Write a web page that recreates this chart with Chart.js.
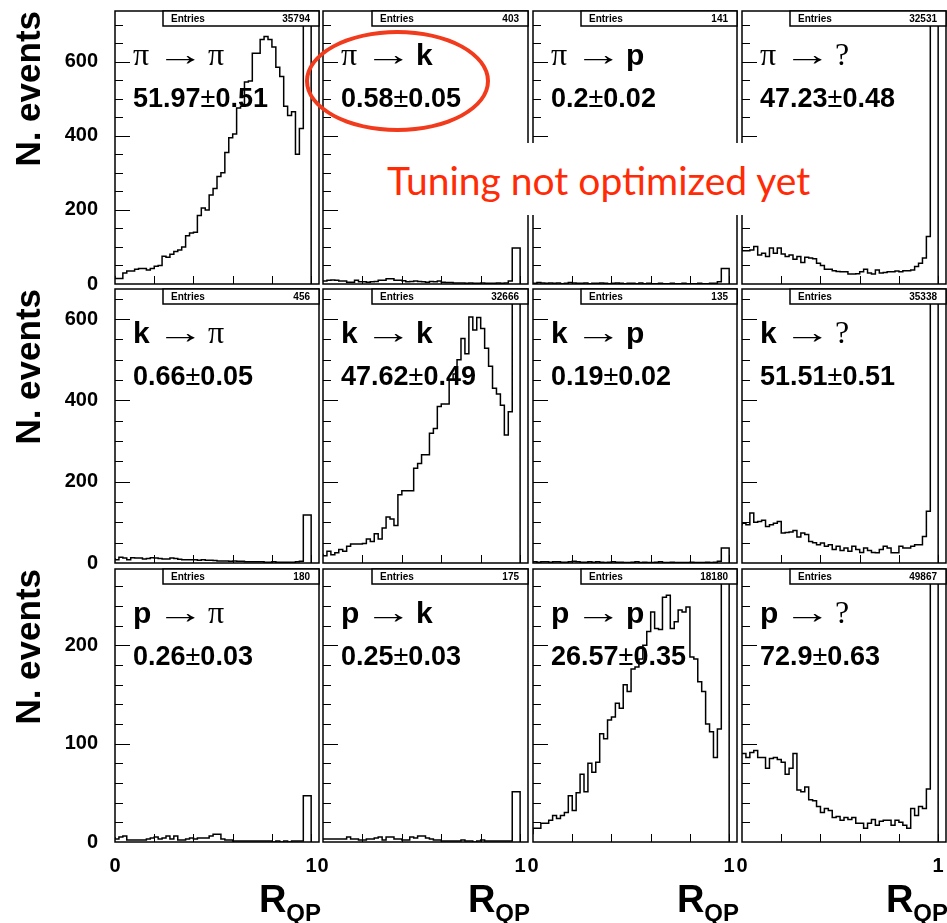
<!DOCTYPE html>
<html lang="en">
<head>
<meta charset="UTF-8">
<title>R_QP identification matrix</title>
<script src="https://cdn.jsdelivr.net/npm/chart.js@4.4.0/dist/chart.umd.min.js"></script>
<style>
  html, body { margin: 0; padding: 0; background: #fff; overflow: hidden; }
  #page { position: relative; width: 947px; height: 923px; }
  #page canvas { position: absolute; }
  #note { position: absolute; left: 380px; top: 143px; width: 540px; height: 72px; background: #fff; z-index: 5; }
  #note span { position: absolute; left: 7px; top: 18px; font-family: Lato, "Open Sans", sans-serif; font-size: 39px; line-height: 39px; color: #ff2b06; white-space: nowrap; }
  #ring { position: absolute; left: 305px; top: 30px; width: 185px; height: 102px; box-sizing: border-box; border: 4px solid #f23a1c; border-radius: 50%; z-index: 6; }
</style>
</head>
<body>
<div id="page">
  <div id="note"><span>Tuning not optimized yet</span></div>
  <div id="ring"></div>
</div>

<script>
// true species (rows) and assigned species (columns)
const sources = ['π', 'k', 'p'];
const targets = ['π', 'k', 'p', '?'];

// bin contents, 50 bins of width 0.02 in R_QP, last bin collects R_QP = 1
const piToPi = [22, 15, 15, 30, 35, 35, 40, 42, 42, 38, 42, 48, 50, 75, 72, 80, 88, 92, 100, 130, 138, 140, 185, 205, 200, 240, 258, 290, 300, 355, 395, 405, 475, 480, 545, 548, 623, 623, 660, 668, 660, 640, 585, 560, 480, 455, 465, 350, 420, 22355];
const piToK = [8, 8, 10, 11, 10, 8, 8, 5, 5, 10, 6, 6, 5, 6, 7, 10, 10, 14, 14, 10, 10, 9, 6, 7, 8, 7, 6, 5, 7, 6, 8, 5, 4, 4, 3, 3, 3, 2, 3, 2, 2, 3, 2, 2, 2, 3, 2, 3, 8, 97];
const piToP = [4, 2, 4, 3, 2, 3, 2, 3, 1, 2, 4, 3, 2, 2, 3, 1, 2, 2, 3, 2, 1, 2, 3, 2, 1, 2, 2, 1, 3, 1, 2, 1, 1, 2, 1, 1, 2, 1, 1, 2, 1, 1, 1, 2, 1, 1, 2, 2, 6, 42];
const piToUnknown = [101, 90, 90, 92, 101, 78, 83, 74, 97, 83, 97, 81, 74, 78, 67, 74, 58, 72, 70, 68, 56, 50, 40, 40, 36, 34, 33, 33, 27, 27, 28, 33, 40, 30, 27, 38, 30, 31, 33, 33, 35, 33, 36, 36, 38, 47, 56, 70, 128, 29725];

const kToPi = [12, 8, 14, 12, 8, 13, 12, 12, 10, 11, 13, 12, 11, 10, 10, 12, 11, 9, 8, 8, 8, 8, 7, 8, 7, 7, 6, 5, 5, 5, 4, 5, 4, 4, 3, 3, 3, 3, 3, 2, 2, 3, 2, 2, 2, 2, 2, 3, 4, 118];
const kToK = [23, 18, 29, 20, 25, 33, 29, 41, 47, 47, 47, 48, 59, 53, 72, 59, 86, 113, 108, 92, 168, 178, 178, 178, 233, 245, 266, 266, 319, 331, 385, 391, 391, 450, 465, 500, 552, 515, 605, 573, 604, 577, 528, 484, 430, 416, 388, 315, 372, 20314];
const kToP = [2, 3, 2, 3, 3, 2, 3, 3, 2, 2, 3, 4, 3, 2, 2, 3, 2, 3, 2, 1, 2, 3, 2, 2, 1, 1, 2, 3, 1, 2, 1, 1, 2, 3, 1, 1, 2, 1, 1, 1, 1, 2, 1, 1, 1, 2, 1, 2, 4, 37];
const kToUnknown = [92, 98, 94, 123, 100, 102, 105, 90, 94, 98, 102, 74, 75, 76, 80, 64, 74, 70, 53, 50, 45, 49, 41, 45, 33, 41, 31, 37, 29, 41, 33, 26, 37, 31, 26, 25, 33, 41, 37, 25, 25, 41, 37, 37, 41, 45, 45, 65, 127, 32455];

const pToPi = [5, 3, 5, 6, 2, 2, 2, 2, 2, 3, 4, 5, 3, 4, 6, 3, 6, 2, 2, 3, 4, 3, 4, 4, 4, 6, 8, 8, 3, 2, 2, 1, 1, 1, 1, 1, 1, 1, 1, 1, 1, 0, 1, 0, 1, 0, 1, 1, 1, 47];
const pToK = [3, 3, 3, 3, 3, 3, 3, 5, 3, 3, 2, 2, 3, 3, 4, 5, 2, 5, 5, 3, 3, 2, 2, 5, 4, 6, 6, 4, 3, 2, 2, 1, 1, 1, 1, 1, 2, 1, 1, 0, 1, 2, 1, 1, 1, 1, 1, 1, 1, 51];
const pToP = [8, 14, 14, 19, 19, 22, 27, 24, 27, 30, 47, 32, 50, 69, 51, 80, 71, 81, 110, 105, 124, 127, 141, 136, 160, 153, 176, 178, 186, 200, 214, 234, 217, 216, 249, 251, 217, 224, 236, 234, 239, 188, 186, 163, 153, 120, 112, 86, 115, 12045];
const pToUnknown = [90, 90, 86, 91, 93, 86, 86, 75, 85, 86, 84, 81, 69, 75, 90, 53, 51, 56, 43, 42, 36, 30, 34, 32, 25, 26, 22, 25, 23, 25, 19, 19, 14, 19, 23, 17, 21, 22, 22, 17, 22, 20, 17, 14, 34, 27, 36, 34, 54, 47626];

const counts = [
  [piToPi, piToK, piToP, piToUnknown],
  [kToPi, kToK, kToP, kToUnknown],
  [pToPi, pToK, pToP, pToUnknown]
];

// fraction (%) of each true species ending up in each column, with error
const fractionValues = [[51.97, 0.58, 0.2, 47.23], [0.66, 47.62, 0.19, 51.51], [0.26, 0.25, 26.57, 72.9]];
const fractionErrors = [[0.51, 0.05, 0.02, 0.48], [0.05, 0.49, 0.02, 0.51], [0.03, 0.03, 0.35, 0.63]];
const entries = [[35794, 403, 141, 32531], [456, 32666, 135, 35338], [180, 175, 18180, 49867]];

// axis settings per row
const yMax = [737, 674, 277.6];
const yLabelStep = [200, 200, 100];
const yMinorStep = [50, 50, 20];
const binWidth = 0.02;
const xMax = 1.04;
const xTickStep = 0.2;

// pad geometry
const colLeft = [115, 323, 533, 742];
const colWidth = [204, 205, 204, 204];
const rowTop = [11, 289, 569];
const rowHeight = [273, 274, 273];

const SANS = '"Liberation Sans", Arial, Helvetica, sans-serif';
const SERIF = '"Liberation Serif", "Times New Roman", "DejaVu Serif", serif';

function symbolFont(s) {
  return (s === 'π' || s === '?') ? '32px ' + SERIF : 'bold 30px ' + SANS;
}

// frame, inward ticks, stats box and the pad labels
const padDecor = {
  id: 'padDecor',
  afterDraw(chart, args, opts) {
    const { ctx, chartArea: a, scales: { x, y } } = chart;
    const r = opts.row, c = opts.col;
    ctx.save();

    ctx.strokeStyle = '#000';
    ctx.lineWidth = 1;
    const nMinor = Math.floor(yMax[r] / yMinorStep[r] + 1e-9);
    for (let k = 1; k <= nMinor; k++) {
      const v = k * yMinorStep[r];
      const py = Math.round(y.getPixelForValue(v)) + 0.5;
      const len = v % yLabelStep[r] === 0 ? 15 : 8;
      ctx.beginPath();
      ctx.moveTo(a.left, py);
      ctx.lineTo(a.left + len, py);
      ctx.stroke();
    }
    for (let k = 1; k * xTickStep <= 1 + 1e-9; k++) {
      const px = Math.round(x.getPixelForValue(k * xTickStep)) + 0.5;
      ctx.beginPath();
      ctx.moveTo(px, a.bottom);
      ctx.lineTo(px, a.bottom - 8);
      ctx.stroke();
    }

    ctx.lineWidth = 1.5;
    ctx.strokeRect(a.left, a.top, a.right - a.left, a.bottom - a.top);

    // statistics box
    const bx = a.right - 156, by = a.top, bh = 15;
    ctx.fillStyle = '#fff';
    ctx.fillRect(bx, by, a.right - bx, bh);
    ctx.strokeRect(bx, by, a.right - bx, bh);
    ctx.fillStyle = '#000';
    ctx.font = 'bold 10px ' + SANS;
    ctx.textBaseline = 'middle';
    ctx.textAlign = 'left';
    ctx.fillText('Entries', bx + 8, by + bh / 2 + 0.5);
    ctx.textAlign = 'right';
    ctx.fillText(String(entries[r][c]), a.right - 9, by + bh / 2 + 0.5);

    // "source -> target", the arrow stretched to the long TLatex form
    ctx.textAlign = 'left';
    ctx.textBaseline = 'alphabetic';
    const ly = a.top + 54;
    ctx.font = symbolFont(sources[r]);
    ctx.fillText(sources[r], a.left + 18, ly);
    ctx.font = '32px ' + SERIF;
    const aw = ctx.measureText('→').width;
    ctx.save();
    ctx.translate(a.left + 41, ly);
    ctx.scale(48 / aw, 1);
    ctx.fillText('→', 0, 0);
    ctx.restore();
    ctx.font = symbolFont(targets[c]);
    ctx.fillText(targets[c], a.left + 93, ly);

    // fraction with error
    let tx = a.left + 18;
    const ty = a.top + 96;
    const val = String(fractionValues[r][c]);
    const err = String(fractionErrors[r][c]);
    ctx.font = 'bold 27px ' + SANS;
    ctx.fillText(val, tx, ty);
    tx += ctx.measureText(val).width;
    ctx.font = '27px ' + SANS;
    ctx.fillText('±', tx, ty);
    tx += ctx.measureText('±').width;
    ctx.font = 'bold 27px ' + SANS;
    ctx.fillText(err, tx, ty);

    // x-axis title with subscript on the bottom row
    if (r === 2) {
      ctx.textAlign = 'right';
      ctx.font = 'bold 24px ' + SANS;
      ctx.fillText('QP', a.right + 2, a.bottom + 79);
      const qw = ctx.measureText('QP').width;
      ctx.font = 'bold 38px ' + SANS;
      ctx.fillText('R', a.right + 2 - qw, a.bottom + 70);
    }
    ctx.restore();
  }
};
Chart.register(padDecor);

const page = document.getElementById('page');

function makePad(r, c) {
  const left = colLeft[c], top = rowTop[r], w = colWidth[c], h = rowHeight[r];
  const m = 12;
  const x0 = c === 0 ? 0 : left - m;
  const y0 = top - m;
  const x1 = Math.min(left + w + m, 947);
  const y1 = r === 2 ? 923 : top + h + m;

  const canvas = document.createElement('canvas');
  canvas.width = x1 - x0;
  canvas.height = y1 - y0;
  canvas.style.left = x0 + 'px';
  canvas.style.top = y0 + 'px';
  canvas.style.width = (x1 - x0) + 'px';
  canvas.style.height = (y1 - y0) + 'px';
  page.insertBefore(canvas, page.firstChild);

  // bin left edges, closed at the upper edge of the last bin
  const values = counts[r][c];
  const points = values.map((v, i) => ({ x: i * binWidth, y: v }));
  points.push({ x: values.length * binWidth, y: values[values.length - 1] });
  points.push({ x: values.length * binWidth, y: 0 });

  const yScale = {
    type: 'linear', min: 0, max: yMax[r], display: c === 0,
    grid: { display: false, drawTicks: false },
    border: { display: false },
    ticks: {
      stepSize: yLabelStep[r], includeBounds: false, padding: 17, color: '#000',
      font: { family: SANS, size: 20, weight: 'bold' }
    },
    title: {
      display: true, text: 'N. events', align: 'end', color: '#000',
      font: { family: SANS, size: 35, weight: 'bold' },
      padding: { top: 9, bottom: 0 }
    }
  };
  if (c === 0) {
    yScale.afterFit = scale => {
      scale.width = 115;
      scale.paddingTop = 0;
      scale.paddingBottom = 0;
    };
  }

  const xScale = {
    type: 'linear', min: 0, max: xMax, display: r === 2,
    grid: { display: false, drawTicks: false },
    border: { display: false },
    ticks: {
      stepSize: xTickStep, includeBounds: false, autoSkip: false, maxRotation: 0,
      padding: 12, color: '#000',
      font: { family: SANS, size: 20, weight: 'bold' },
      callback: v => (v === 0 ? '0' : (Math.abs(v - 1) < 1e-6 ? '1' : ''))
    }
  };
  if (r === 2) {
    xScale.afterFit = scale => {
      scale.height = 81;
      scale.paddingLeft = 0;
      scale.paddingRight = 0;
    };
  }

  new Chart(canvas, {
    type: 'line',
    data: {
      datasets: [{
        data: points,
        stepped: 'after',
        borderColor: '#000',
        borderWidth: 1.5,
        pointRadius: 0,
        fill: false
      }]
    },
    options: {
      responsive: false,
      animation: false,
      devicePixelRatio: 1,
      events: [],
      layout: {
        padding: {
          left: c === 0 ? 0 : m,
          top: m,
          right: x1 - (left + w),
          bottom: r === 2 ? 0 : m
        }
      },
      scales: { x: xScale, y: yScale },
      plugins: {
        legend: { display: false },
        tooltip: { enabled: false },
        padDecor: { row: r, col: c }
      }
    }
  });
}

for (let r = 0; r < 3; r++) {
  for (let c = 0; c < 4; c++) {
    makePad(r, c);
  }
}
</script>
</body>
</html>
